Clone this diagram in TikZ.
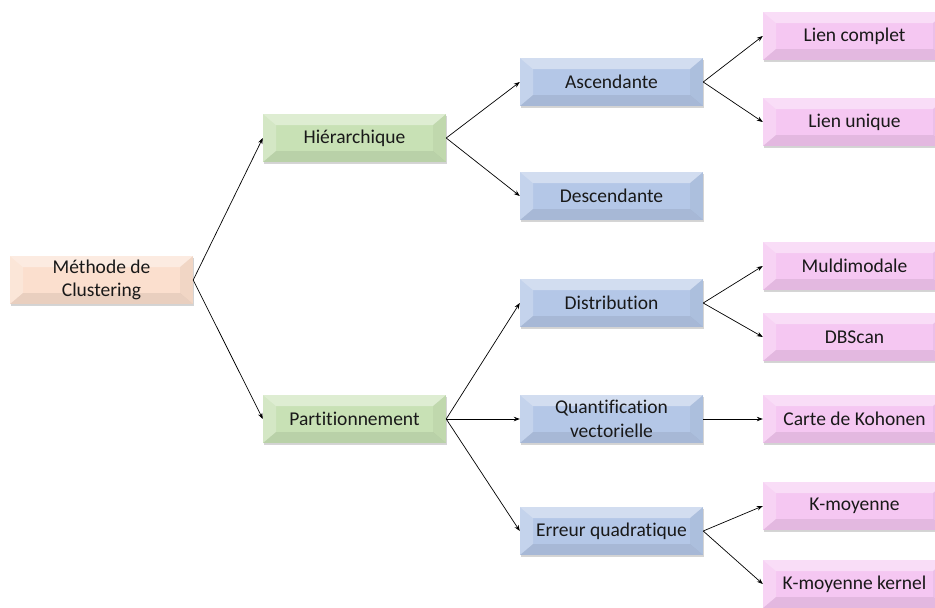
\documentclass[tikz,border=0pt]{standalone}
\usepackage{fontspec}
\setmainfont{Carlito}[Ligatures=NoCommon]
\usetikzlibrary{arrows.meta,shadows}

\definecolor{rootfill}{RGB}{251,223,206}
\definecolor{levelone}{RGB}{200,225,181}
\definecolor{leveltwo}{RGB}{180,199,231}
\definecolor{levelthree}{RGB}{245,199,242}
\definecolor{textgrey}{RGB}{25,25,25}

\begin{document}
\begin{tikzpicture}[
		x=1pt, y=-1pt,
		box/.style={
			draw=none,
			align=center,
			minimum width=183pt,
			minimum height=48pt,
			inner sep=0pt,
			text=textgrey,
			font=\fontsize{19.5}{23.5}\selectfont,
			drop shadow={shadow xshift=0.6pt, shadow yshift=-1.8pt, opacity=0.3, fill=black!55},
			path picture={
				% bevel: light top and left, dark bottom and right
				\fill[white, opacity=0.4]
					(path picture bounding box.north west) -- (path picture bounding box.north east)
					-- ([shift={(-13pt,-11pt)}]path picture bounding box.north east)
					-- ([shift={(13pt,-11pt)}]path picture bounding box.north west) -- cycle;
				\fill[white, opacity=0.22]
					(path picture bounding box.north west) -- ([shift={(13pt,-11pt)}]path picture bounding box.north west)
					-- ([shift={(13pt,11pt)}]path picture bounding box.south west)
					-- (path picture bounding box.south west) -- cycle;
				\fill[black, opacity=0.07]
					(path picture bounding box.south west) -- (path picture bounding box.south east)
					-- ([shift={(-13pt,11pt)}]path picture bounding box.south east)
					-- ([shift={(13pt,11pt)}]path picture bounding box.south west) -- cycle;
				\fill[black, opacity=0.04]
					(path picture bounding box.north east) -- ([shift={(-13pt,-11pt)}]path picture bounding box.north east)
					-- ([shift={(-13pt,11pt)}]path picture bounding box.south east)
					-- (path picture bounding box.south east) -- cycle;
			}
		},
		rootbox/.style={box, fill=rootfill},
		onebox/.style={box, fill=levelone},
		twobox/.style={box, fill=leveltwo},
		threebox/.style={box, fill=levelthree},
		link/.style={draw, line width=0.7pt, -{Stealth[length=6pt, width=4.5pt]}}
		]
		
		\useasboundingbox (0,0) rectangle (935,608);
		\clip (0,0) rectangle (935,608);
		
		% Root
		\node[rootbox] (meth) at (101.5,280) {Méthode de\\Clustering};
		
		% First level
		\node[onebox] (hier) at (354.5,138) {Hiérarchique};
		\node[onebox] (part) at (354.5,419) {Partitionnement};
		
		% Second level
		\node[twobox] (asc) at (611.5,82) {Ascendante};
		\node[twobox] (desc) at (611.5,196) {Descendante};
		\node[twobox] (dist) at (611.5,303) {Distribution};
		\node[twobox] (quant) at (611.5,419) {Quantification\\vectorielle};
		\node[twobox] (err) at (611.5,531) {Erreur quadratique};
		
		% Third level (cut at the right border)
		\node[threebox] (lienc) at (854.5,36) {Lien complet};
		\node[threebox] (lienu) at (854.5,122) {Lien unique};
		\node[threebox] (mult) at (854.5,266) {Muldimodale};
		\node[threebox] (dbs) at (854.5,337) {DBScan};
		\node[threebox] (koh) at (854.5,419) {Carte de Kohonen};
		\node[threebox] (kmoy) at (854.5,506) {K-moyenne};
		\node[threebox] (kker) at (854.5,584) {K-moyenne kernel};
		
		% Connectors
		\draw[link] (meth.east) -- (hier.west);
		\draw[link] (meth.east) -- (part.west);
		\draw[link] (hier.east) -- (asc.west);
		\draw[link] (hier.east) -- (desc.west);
		\draw[link] (part.east) -- (dist.west);
		\draw[link] (part.east) -- (quant.west);
		\draw[link] (part.east) -- (err.west);
		\draw[link] (asc.east) -- (lienc.west);
		\draw[link] (asc.east) -- (lienu.west);
		\draw[link] (dist.east) -- (mult.west);
		\draw[link] (dist.east) -- (dbs.west);
		\draw[link] (quant.east) -- (koh.west);
		\draw[link] (err.east) -- (kmoy.west);
		\draw[link] (err.east) -- (kker.west);
		
	\end{tikzpicture}
\end{document}
